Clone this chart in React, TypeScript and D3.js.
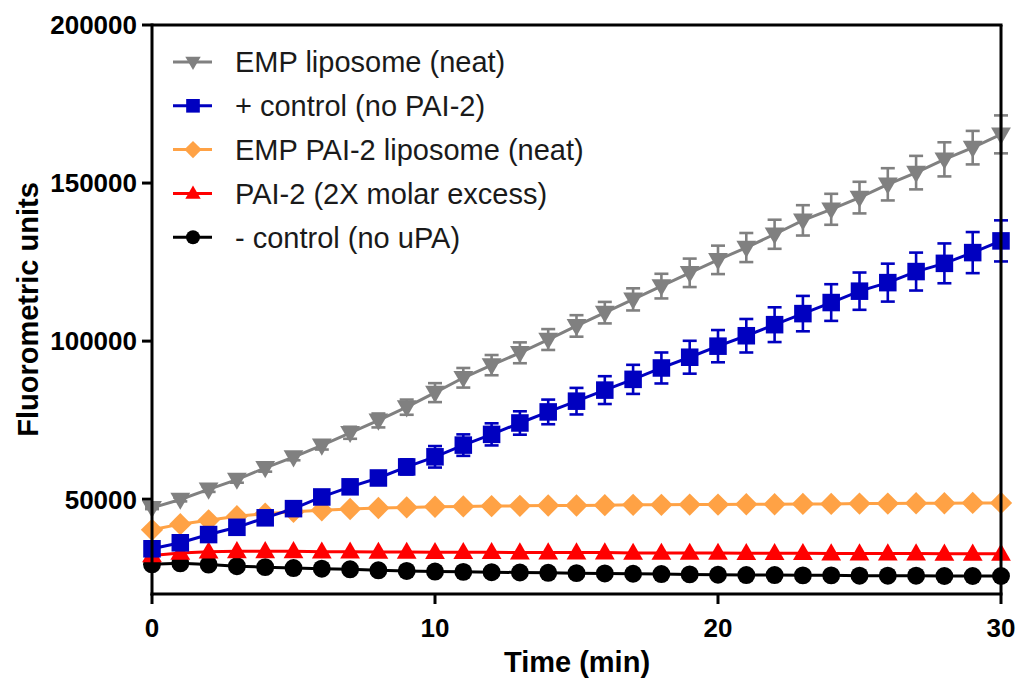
import React from "react";
import * as d3 from "d3";

const times = d3.range(0, 31);

const seriesNames = [
  "EMP liposome (neat)",
  "+ control (no PAI-2)",
  "EMP PAI-2 liposome (neat)",
  "PAI-2 (2X molar excess)",
  "- control (no uPA)",
];
const seriesColors = ["#808080", "#0000C0", "#FFA245", "#FF0000", "#000000"];
const seriesShapes = ["triangleDown", "square", "diamond", "triangle", "circle"];

const empLiposome = [
  47250, 49900, 53100, 56200, 59900, 63300, 67000, 71000, 74900, 79100, 83700,
  88400, 92400, 96300, 100500, 104800, 109000, 113200, 117400, 121600, 125700,
  129600, 133800, 138200, 141700, 145400, 149600, 153300, 157500, 161200, 165400,
];
const empLiposomeErr = [
  400, 600, 800, 1000, 1200, 1000, 1300, 1900, 2200, 2400, 3000,
  3100, 3200, 3300, 3300, 3400, 3400, 3500, 3900, 4500, 4500,
  4600, 4600, 4800, 4900, 5000, 5100, 5300, 5400, 5300, 6000,
];
const posControl = [
  34300, 36200, 38800, 41100, 44100, 47000, 50700, 53900, 56700, 60200, 63400,
  67100, 70500, 74100, 77600, 81000, 84500, 87900, 91500, 94900, 98400,
  101700, 105200, 108700, 112200, 115800, 118500, 122000, 124600, 128000, 131700,
];
const posControlErr = [
  400, 600, 800, 1000, 1200, 1400, 1600, 1800, 2000, 2400, 3400,
  3400, 3500, 3700, 3900, 4200, 4400, 4600, 4900, 5200, 5100,
  5300, 5500, 5600, 5800, 5900, 6000, 6000, 6300, 6500, 6500,
];
const empPai2 = [
  40300, 42100, 43300, 44600, 45400, 46000, 46500, 46900, 47200, 47400, 47600,
  47700, 47800, 47900, 48000, 48000, 48100, 48200, 48200, 48300, 48300,
  48400, 48400, 48500, 48500, 48600, 48600, 48700, 48700, 48800, 48800,
];
const pai2Excess = [
  32200, 33000, 33400, 33500, 33500, 33500, 33400, 33400, 33300, 33300, 33200,
  33200, 33200, 33100, 33100, 33100, 33100, 33000, 33000, 33000, 33000,
  32900, 32900, 32900, 32800, 32800, 32800, 32800, 32700, 32700, 32700,
];
const negControl = [
  29400, 29700, 29300, 28800, 28500, 28200, 28000, 27800, 27500, 27300, 27100,
  27000, 26900, 26800, 26700, 26600, 26500, 26400, 26300, 26200, 26100,
  26000, 26000, 25900, 25900, 25800, 25800, 25800, 25700, 25700, 25700,
];

const seriesValues = [empLiposome, posControl, empPai2, pai2Excess, negControl];
const seriesErrors = [empLiposomeErr, posControlErr, null, null, null];

const xTicks = [0, 10, 20, 30];
const yTicks = [50000, 100000, 150000, 200000];

const W = 1019;
const H = 682;
const left = 152;
const right = 1001;
const top = 25;
const bottom = 594;

const FONT = "'Liberation Sans', Arial, Helvetica, sans-serif";

function markerPath(shape: string, size: number): string {
  const area = size * size;
  switch (shape) {
    case "square":
      return d3.symbol(d3.symbolSquare, area * 0.95)() as string;
    case "circle":
      return d3.symbol(d3.symbolCircle, area * 0.78)() as string;
    case "diamond": {
      const r = size * 0.62;
      return `M0,${-r}L${r},0L0,${r}L${-r},0Z`;
    }
    case "triangle": {
      const h = size * 0.95;
      const w = size * 0.55;
      return `M0,${-h * 0.6}L${w},${h * 0.4}L${-w},${h * 0.4}Z`;
    }
    case "triangleDown": {
      const h = size * 0.95;
      const w = size * 0.55;
      return `M0,${h * 0.6}L${w},${-h * 0.4}L${-w},${-h * 0.4}Z`;
    }
  }
  return "";
}

export default function App() {
  const x = d3.scaleLinear().domain([0, 30]).range([left, right]);
  const y = d3.scaleLinear().domain([20000, 200000]).range([bottom, top]);
  const line = d3
    .line<number>()
    .x((_, i) => x(times[i]))
    .y((d) => y(d));

  const order = [4, 3, 2, 1, 0];
  const mSize = 18;

  return (
    <svg
      width={W}
      height={H}
      style={{ position: "absolute", left: 0, top: 0, background: "#fff" }}
      fontFamily={FONT}
    >
      <rect x={0} y={0} width={W} height={H} fill="#fff" />
      {order.map((s) => {
        const vals = seriesValues[s];
        const errs = seriesErrors[s];
        const color = seriesColors[s];
        return (
          <g key={s}>
            {errs &&
              vals.map((v, i) => {
                const cx = x(times[i]);
                const y1 = y(v + errs[i]);
                const y2 = y(v - errs[i]);
                return (
                  <g key={i} stroke={color} strokeWidth={2.6}>
                    <line x1={cx} x2={cx} y1={y1} y2={y2} />
                    <line x1={cx - 7} x2={cx + 7} y1={y1} y2={y1} />
                    <line x1={cx - 7} x2={cx + 7} y1={y2} y2={y2} />
                  </g>
                );
              })}
            <path d={line(vals) as string} fill="none" stroke={color} strokeWidth={3} />
            {vals.map((v, i) => (
              <path
                key={i}
                d={markerPath(seriesShapes[s], mSize)}
                transform={`translate(${x(times[i])},${y(v)})`}
                fill={color}
              />
            ))}
          </g>
        );
      })}

      <line x1={left} x2={right + 1.5} y1={top} y2={top} stroke="#000" strokeWidth={3} />
      <line x1={right} x2={right} y1={top} y2={bottom} stroke="#000" strokeWidth={3} />
      <line x1={left} x2={left} y1={top - 1.5} y2={bottom + 1.5} stroke="#000" strokeWidth={3} />
      <line x1={left - 1.5} x2={right + 1.5} y1={bottom} y2={bottom} stroke="#000" strokeWidth={3} />

      {yTicks.map((t) => (
        <g key={t}>
          <line x1={left - 10} x2={left} y1={y(t)} y2={y(t)} stroke="#000" strokeWidth={3} />
          <text
            x={left - 15}
            y={y(t)}
            dy="0.36em"
            textAnchor="end"
            fontSize={26}
            fontWeight="bold"
            fill="#000"
          >
            {t}
          </text>
        </g>
      ))}
      {xTicks.map((t) => (
        <g key={t}>
          <line x1={x(t)} x2={x(t)} y1={bottom} y2={bottom + 10} stroke="#000" strokeWidth={3} />
          <text
            x={x(t)}
            y={637}
            textAnchor="middle"
            fontSize={26}
            fontWeight="bold"
            fill="#000"
          >
            {t}
          </text>
        </g>
      ))}

      <text
        x={577}
        y={672}
        textAnchor="middle"
        fontSize={29}
        fontWeight="bold"
        fill="#000"
      >
        Time (min)
      </text>
      <text
        transform={`translate(38,${(top + bottom) / 2}) rotate(-90)`}
        textAnchor="middle"
        fontSize={29}
        fontWeight="bold"
        fill="#000"
      >
        Fluorometric units
      </text>

      {seriesNames.map((name, i) => {
        const ly = 62 + i * 43.8;
        return (
          <g key={name}>
            <line x1={173} x2={212} y1={ly} y2={ly} stroke={seriesColors[i]} strokeWidth={3} />
            <path
              d={markerPath(seriesShapes[i], 14)}
              transform={`translate(193,${ly})`}
              fill={seriesColors[i]}
            />
            <text x={235} y={ly} dy="0.36em" fontSize={29} fill="#1a1a1a">
              {name}
            </text>
          </g>
        );
      })}
    </svg>
  );
}
